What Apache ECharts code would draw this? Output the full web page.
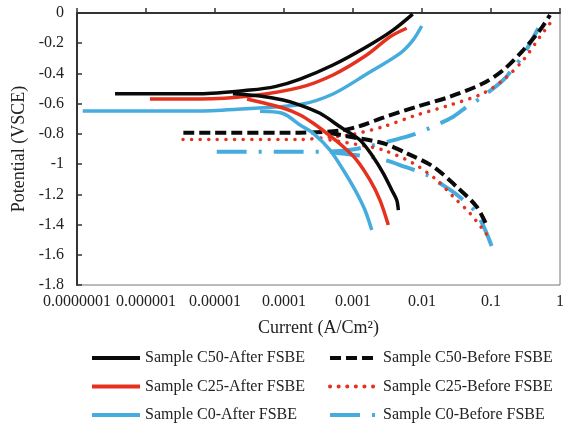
<!DOCTYPE html>
<html><head><meta charset="utf-8">
<script src="https://cdn.jsdelivr.net/npm/echarts@6/dist/echarts.min.js"></script>
<style>html,body{margin:0;padding:0;background:#fff}#c{width:568px;height:430px}</style>
</head><body><div id="c"></div>
<script>
// Tick labels
const xTickLabels = ['0.0000001', '0.000001', '0.00001', '0.0001', '0.001', '0.01', '0.1', '1'];
const yMin = -1.8, yMax = 0, yStep = 0.2;

// Series names
const names = {
  c50a: 'Sample C50-After FSBE', c50b: 'Sample C50-Before FSBE',
  c25a: 'Sample C25-After FSBE', c25b: 'Sample C25-Before FSBE',
  c0a: 'Sample C0-After FSBE',   c0b: 'Sample C0-Before FSBE'
};

// [current (A/cm2), potential (V SCE)]
const c50AfterAnodic = [[3.56e-7,-0.534],[6.07e-6,-0.534],[3.21e-5,-0.510],[7.41e-5,-0.487],[1.71e-4,-0.437],[5.13e-4,-0.344],[1.58e-3,-0.223],[3.80e-3,-0.113],[7.33e-3,-0.007]];
const c50AfterCathodic = [[1.82e-5,-0.534],[4.49e-5,-0.549],[9.68e-5,-0.576],[1.71e-4,-0.609],[3.33e-4,-0.664],[6.49e-4,-0.753],[1.26e-3,-0.840],[1.95e-3,-0.951],[2.75e-3,-1.061],[3.64e-3,-1.171],[4.30e-3,-1.238],[4.54e-3,-1.304]];

const c25AfterAnodic = [[1.14e-6,-0.569],[6.07e-6,-0.569],[3.21e-5,-0.549],[1.71e-4,-0.492],[5.13e-4,-0.410],[1.58e-3,-0.278],[3.44e-3,-0.157],[6.0e-3,-0.101]];
const c25AfterCathodic = [[2.91e-5,-0.569],[9.68e-5,-0.629],[1.71e-4,-0.675],[2.66e-4,-0.730],[4.16e-4,-0.796],[7.23e-4,-0.885],[1.13e-3,-0.973],[1.76e-3,-1.105],[2.46e-3,-1.238],[3.25e-3,-1.403]];

const c0AfterAnodic = [[1.21e-7,-0.649],[6.07e-6,-0.649],[3.21e-5,-0.632],[1.71e-4,-0.606],[5.13e-4,-0.536],[1.58e-3,-0.404],[4.80e-3,-0.267],[7.41e-3,-0.179],[9.91e-3,-0.086]];
const c0AfterCathodic = [[4.49e-5,-0.650],[9.68e-5,-0.665],[1.71e-4,-0.741],[2.66e-4,-0.796],[4.65e-4,-0.907],[7.23e-4,-1.039],[1.07e-3,-1.171],[1.49e-3,-1.304],[1.87e-3,-1.436]];

const c50BeforeAnodic = [[3.48e-6,-0.792],[1.71e-4,-0.792],[6.49e-4,-0.778],[1.26e-3,-0.748],[2.75e-3,-0.692],[8.38e-3,-0.620],[2.55e-2,-0.554],[7.73e-2,-0.465],[0.151,-0.377],[0.294,-0.245],[0.513,-0.113],[0.716,-0.013]];
const c50BeforeCathodic = [[4.65e-4,-0.794],[9.06e-4,-0.819],[2.75e-3,-0.862],[6.0e-3,-0.928],[1.46e-2,-1.017],[3.18e-2,-1.150],[6.21e-2,-1.282],[8.47e-2,-1.396]];

const c25BeforeAnodic = [[3.44e-6,-0.837],[1.71e-4,-0.837],[4.65e-4,-0.821],[9.06e-4,-0.807],[2.75e-3,-0.752],[8.38e-3,-0.675],[2.55e-2,-0.609],[7.73e-2,-0.531],[0.151,-0.443],[0.294,-0.311],[0.513,-0.157],[0.741,-0.060]];
const c25BeforeCathodic = [[4.65e-4,-0.840],[1.26e-3,-0.874],[2.75e-3,-0.907],[7.48e-3,-0.995],[1.63e-2,-1.105],[2.84e-2,-1.216],[4.97e-2,-1.326],[9.14e-2,-1.480]];

const c0BeforeAnodic = [[1.06e-5,-0.918],[1.71e-4,-0.918],[6.49e-4,-0.913],[1.58e-3,-0.885],[4.30e-3,-0.836],[7.23e-3,-0.807],[1.17e-2,-0.770],[2.84e-2,-0.686],[4.45e-2,-0.620],[6.93e-2,-0.565],[0.151,-0.443],[0.208,-0.366],[0.294,-0.278],[0.485,-0.101]];
const c0BeforeCathodic = [[4.65e-4,-0.918],[6.49e-4,-0.929],[1.76e-3,-0.951],[2.91e-3,-0.973],[4.80e-3,-1.006],[1.17e-2,-1.072],[1.82e-2,-1.127],[3.01e-2,-1.193],[6.21e-2,-1.326],[0.102,-1.542]];

const FONT = "'Liberation Serif','Times New Roman',serif";
const BLACK = '#0a0a0a', RED = '#e5321f', BLUE = '#46abdd';

function mk(name, data, color, width, type, cap, z) {
  return {
    name: name, type: 'line', data: data, symbol: 'none', showSymbol: false, smooth: 0.3,
    lineStyle: { color: color, width: width, type: type, cap: cap },
    itemStyle: { color: color }, z: z, silent: true, animation: false
  };
}

const DASH_DOT = [30, 12, 3, 12];
const DOTS = [0.1, 8.5];
const DASHES = [11, 5];

const series = [
  mk(names.c0b, c0BeforeAnodic, BLUE, 4, DASH_DOT, 'butt', 2),
  mk(names.c0b, c0BeforeCathodic, BLUE, 4, DASH_DOT, 'butt', 2),
  mk(names.c25b, c25BeforeAnodic, RED, 3.5, DOTS, 'round', 3),
  mk(names.c25b, c25BeforeCathodic, RED, 3.5, DOTS, 'round', 3),
  mk(names.c50b, c50BeforeAnodic, BLACK, 4, DASHES, 'butt', 4),
  mk(names.c50b, c50BeforeCathodic, BLACK, 4, DASHES, 'butt', 4),
  mk(names.c0a, c0AfterAnodic, BLUE, 3.5, 'solid', 'butt', 5),
  mk(names.c0a, c0AfterCathodic, BLUE, 3.5, 'solid', 'butt', 5),
  mk(names.c25a, c25AfterAnodic, RED, 3.5, 'solid', 'butt', 6),
  mk(names.c25a, c25AfterCathodic, RED, 3.5, 'solid', 'butt', 6),
  mk(names.c50a, c50AfterAnodic, BLACK, 3.5, 'solid', 'butt', 7),
  mk(names.c50a, c50AfterCathodic, BLACK, 3.5, 'solid', 'butt', 7)
];

const legendCommon = {
  orient: 'vertical', top: 349, itemWidth: 48, itemHeight: 18, itemGap: 10.5,
  padding: 0, selectedMode: false,
  itemStyle: { opacity: 0, borderWidth: 0 },
  lineStyle: { width: 4 },
  textStyle: { fontFamily: FONT, fontSize: 16, color: '#222', lineHeight: 18 }
};

const chart = echarts.init(document.getElementById('c'), null, { renderer: 'canvas' });
chart.setOption({
  animation: false,
  backgroundColor: '#fff',
  grid: { left: 77, right: 8, top: 13, bottom: 145, show: true, borderColor: '#777', borderWidth: 1, backgroundColor: 'transparent' },
  legend: [
    Object.assign({ left: 90, data: [names.c50a, names.c25a, names.c0a] }, legendCommon),
    Object.assign({ left: 328, data: [names.c50b, names.c25b, names.c0b] }, legendCommon)
  ],
  xAxis: {
    type: 'log', logBase: 10, min: 1e-7, max: 1,
    name: 'Current (A/Cm²)', nameLocation: 'middle', nameGap: 34,
    nameTextStyle: { fontFamily: FONT, fontSize: 18, color: '#222' },
    axisLine: { show: true, lineStyle: { color: '#333', width: 2 } },
    axisTick: { show: true, inside: true, length: 5, lineStyle: { color: '#333', width: 1.5 } },
    minorTick: { show: false },
    splitLine: { show: false },
    axisLabel: {
      fontFamily: FONT, fontSize: 16, color: '#222', margin: 9,
      formatter: function (v) { return xTickLabels[Math.round(Math.log10(v) + 7)]; }
    }
  },
  yAxis: {
    type: 'value', min: yMin, max: yMax, interval: yStep,
    name: 'Potential (VSCE)', nameLocation: 'middle', nameGap: 36, nameRotate: 90,
    nameTextStyle: { fontFamily: FONT, fontSize: 18, color: '#222' },
    axisLine: { show: true, lineStyle: { color: '#333', width: 2 } },
    axisTick: { show: true, inside: true, length: 5, lineStyle: { color: '#333', width: 1.5 } },
    splitLine: { show: false },
    axisLabel: { fontFamily: FONT, fontSize: 16, color: '#222', margin: 13 }
  },
  series: series
});
</script>
</body></html>
